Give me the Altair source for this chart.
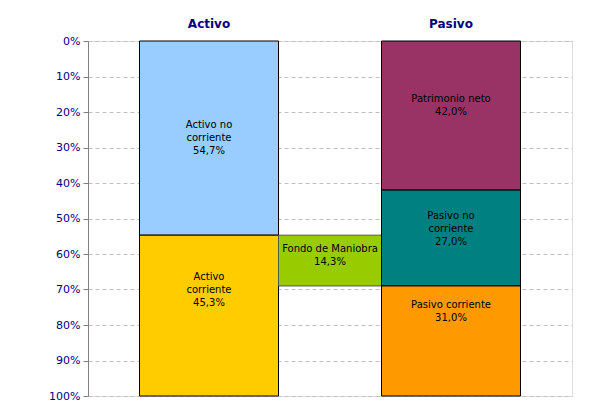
import altair as alt
import pandas as pd

# data
groups = ["Activo", "Activo", "Fondo", "Pasivo", "Pasivo", "Pasivo"]
names = ["Activo no corriente", "Activo corriente", "Fondo de Maniobra",
         "Patrimonio neto", "Pasivo no corriente", "Pasivo corriente"]
values = [54.7, 45.3, 14.3, 42.0, 27.0, 31.0]
label_lines = [["Activo no", "corriente"], ["Activo", "corriente"], ["Fondo de Maniobra"],
               ["Patrimonio neto"], ["Pasivo no", "corriente"], ["Pasivo corriente"]]
label_pos = [23.7, 66.5, 58.7, 16.3, 49.3, 74.5]
colors = ["#99CCFF", "#FFCC00", "#99CC00", "#993366", "#008080", "#FF9900"]
strokes = ["#000000", "#000000", "#555555", "#000000", "#000000", "#000000"]
column_titles = ["Activo", "Pasivo"]
tick_values = [0, 10, 20, 30, 40, 50, 60, 70, 80, 90, 100]

# layout helpers (x in band units: Activo centred at 0.5, Pasivo at 1.5)
center = {"Activo": 0.5, "Pasivo": 1.5}
half = 139 / 484.0

rows = []
cum = {"Activo": 0.0, "Pasivo": 0.0}
for g, n, v, ll, lp, c, s in zip(groups, names, values, label_lines, label_pos, colors, strokes):
    if g == "Fondo":
        start = values[0]
        x0 = center["Activo"] + half
        x1 = center["Pasivo"] - half
    else:
        start = cum[g]
        cum[g] += v
        x0 = center[g] - half
        x1 = center[g] + half
    lab = ll + [f"{v:.1f}".replace(".", ",") + "%"]
    rows.append(dict(name=n, start=start / 100, end=(start + v) / 100, x0=x0, x1=x1,
                     xm=(x0 + x1) / 2, label=lab, lpos=lp / 100, color=c, stroke=s))
df = pd.DataFrame(rows)

titles_df = pd.DataFrame({"t": column_titles, "x": [center[t] for t in column_titles]})

font = "DejaVu Sans"
xs = alt.Scale(domain=[0, 2], nice=False, zero=False)
ys = alt.Scale(domain=[0, 1], reverse=True, nice=False)
y_axis = alt.Axis(values=[t / 100 for t in tick_values], format=".0%", title=None,
                  labelColor="#000080", labelFont=font, labelFontSize=11,
                  labelPadding=3, tickColor="#808080", tickSize=5,
                  labelOverlap=False, labelFlush=False,
                  domainColor="#808080", gridColor="#C0C0C0", gridDash=[4, 3])

bars = alt.Chart(df).mark_rect(strokeWidth=1).encode(
    x=alt.X("x0:Q", scale=xs, axis=None),
    x2="x1:Q",
    y=alt.Y("start:Q", scale=ys, axis=y_axis),
    y2="end:Q",
    fill=alt.Fill("color:N", scale=None),
    stroke=alt.Stroke("stroke:N", scale=None),
)

labels = alt.Chart(df).mark_text(font=font, fontSize=10, color="#000000",
                                 lineHeight=13, baseline="middle").encode(
    x=alt.X("xm:Q", scale=xs, axis=None),
    y=alt.Y("lpos:Q", scale=ys, axis=y_axis),
    text="label",
)

titles = alt.Chart(titles_df).mark_text(font=font, fontSize=12, fontWeight="bold",
                                        color="#000080", baseline="middle").encode(
    x=alt.X("x:Q", scale=xs, axis=None),
    y=alt.value(-17),
    text="t:N",
)

chart = alt.layer(bars, labels, titles).properties(
    width=484, height=355,
    autosize=alt.AutoSizeParams(type="none"),
    padding={"left": 80, "top": 33, "right": 30, "bottom": 10},
).configure_view(stroke="#808080", strokeWidth=1).configure(background="white")

chart.save("out.html", embed_options={"renderer": "svg", "actions": False})
